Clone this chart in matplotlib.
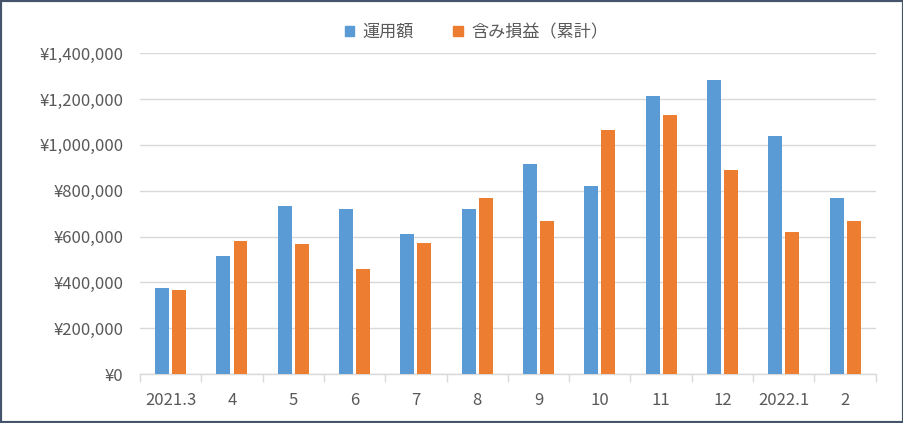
import numpy as np
import matplotlib.pyplot as plt
from matplotlib.patches import Patch, Rectangle
from matplotlib.ticker import FuncFormatter, FixedLocator

plt.rcParams['font.family'] = ['Noto Sans CJK JP', 'DejaVu Sans']

months = ['2021.3', '4', '5', '6', '7', '8', '9', '10', '11', '12', '2022.1', '2']
unyou = [375000, 515000, 734000, 720000, 611000, 720000,
         917000, 821000, 1214000, 1284000, 1039000, 769000]
fukumi = [367000, 581000, 568000, 459000, 572000, 769000,
          668000, 1066000, 1131000, 891000, 620000, 668000]

BLUE = '#5B9BD5'
ORANGE = '#ED7D31'
GRAY = '#595959'
GRID = '#D9D9D9'


def main():
    fig = plt.figure(figsize=(9.04, 4.23), dpi=100)
    ax = fig.add_axes([0.1549, 0.1158, 0.9687 - 0.1549, 0.874 - 0.1158])

    x = np.arange(len(months))
    w = 0.228
    off = 0.139
    ax.bar(x - off, unyou, w, color=BLUE, zorder=3)
    ax.bar(x + off, fukumi, w, color=ORANGE, zorder=3)

    ax.set_xlim(-0.5, len(months) - 0.5)
    ax.set_ylim(0, 1400000)
    ax.set_yticks(np.arange(0, 1400001, 200000))
    ax.yaxis.set_major_formatter(FuncFormatter(lambda v, p: '¥{:,.0f}'.format(v)))
    ax.grid(axis='y', color=GRID, linewidth=1, zorder=0)

    ax.xaxis.set_major_locator(FixedLocator(np.arange(-0.5, len(months))))
    ax.xaxis.set_major_formatter(FuncFormatter(lambda v, p: ''))
    ax.set_xticks(x, months, minor=True)
    ax.tick_params(axis='x', which='major', length=6, color=GRID, width=1)
    ax.tick_params(axis='x', which='minor', length=0, pad=13, labelsize=12, labelcolor=GRAY)
    ax.tick_params(axis='y', length=0, pad=12, labelsize=12, labelcolor=GRAY)

    for s in ['top', 'right', 'left']:
        ax.spines[s].set_visible(False)
    ax.spines['bottom'].set_color(GRID)
    ax.spines['bottom'].set_linewidth(1)

    handles = [Patch(color=BLUE, label='運用額'), Patch(color=ORANGE, label='含み損益（累計）')]
    fig.legend(handles=handles, loc='center', bbox_to_anchor=(0.527, 0.924), ncol=2,
               frameon=False, fontsize=12.3, handlelength=0.55, handleheight=0.55,
               handletextpad=0.5, columnspacing=2.3, labelcolor=GRAY)

    border = Rectangle((0, 0), 1, 1, transform=fig.transFigure, fill=False,
                       edgecolor='#44546A', linewidth=3, clip_on=False)
    fig.patches.append(border)

    fig.savefig('out.png', dpi=100)


if __name__ == '__main__':
    main()
